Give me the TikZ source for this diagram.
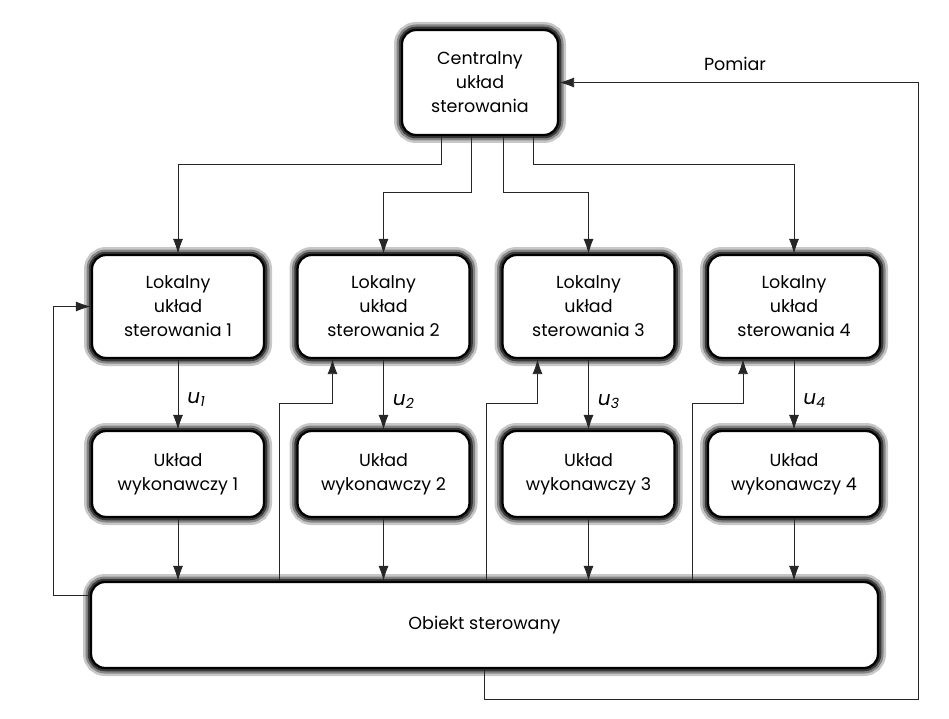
\documentclass[tikz,border=0pt]{standalone}
\usepackage{fontspec}
\setmainfont{Poppins}
\usetikzlibrary{arrows.meta,calc}
\begin{document}
\begin{tikzpicture}[x=1pt,y=-1pt,
  blk/.style={draw=black, line width=2.3pt, rounded corners=14pt, fill=white,
    align=center, inner sep=0pt, font=\fontsize{17.5}{24}\selectfont,
    preaction={draw=black!22, line width=16pt},
    preaction={draw=black!48, line width=11pt},
    preaction={draw=black!78, line width=6.5pt}},
  loc/.style={blk, minimum width=172pt, minimum height=103pt},
  act/.style={blk, minimum width=172pt, minimum height=86pt},
  arr/.style={draw=black!85, line width=0.9pt, -{Latex[length=15pt,width=10pt]}},
  lab/.style={font=\fontsize{20}{20}\selectfont\itshape, inner sep=0pt}
]
\useasboundingbox (0,0) rectangle (949,719);

\node[blk, minimum width=156pt, minimum height=105pt] (c) at (480,82.5)
  {Centralny\\układ\\sterowania};

\node[loc] (l1) at (178,306.5) {Lokalny\\układ\\sterowania 1};
\node[loc] (l2) at (383.5,306.5) {Lokalny\\układ\\sterowania 2};
\node[loc] (l3) at (588.5,306.5) {Lokalny\\układ\\sterowania 3};
\node[loc] (l4) at (794,306.5) {Lokalny\\układ\\sterowania 4};

\node[act] (a1) at (178,474) {Układ\\wykonawczy 1};
\node[act] (a2) at (383.5,474) {Układ\\wykonawczy 2};
\node[act] (a3) at (588.5,474) {Układ\\wykonawczy 3};
\node[act] (a4) at (794,474) {Układ\\wykonawczy 4};

\node[blk, minimum width=787pt, minimum height=86pt] (o) at (484.5,625)
  {Obiekt sterowany};

% central -> local
\draw[arr] ([xshift=-39pt]c.south) -- ++(0,28) -| (l1.north);
\draw[arr] ([xshift=-9pt]c.south) -- ++(0,56) -| (l2.north);
\draw[arr] ([xshift=23pt]c.south) -- ++(0,56) -| (l3.north);
\draw[arr] ([xshift=53pt]c.south) -- ++(0,28) -| (l4.north);

% local -> actuator
\draw[arr] (l1.south) -- node[lab, right, xshift=9pt, yshift=-5pt] {u\textsubscript{1}} (a1.north);
\draw[arr] (l2.south) -- node[lab, right, xshift=9pt, yshift=-7pt] {u\textsubscript{2}} (a2.north);
\draw[arr] (l3.south) -- node[lab, right, xshift=9pt, yshift=-7pt] {u\textsubscript{3}} (a3.north);
\draw[arr] (l4.south) -- node[lab, right, xshift=9pt, yshift=-6pt] {u\textsubscript{4}} (a4.north);

% actuator -> object
\draw[arr] (a1.south) -- (a1.south |- o.north);
\draw[arr] (a2.south) -- (a2.south |- o.north);
\draw[arr] (a3.south) -- (a3.south |- o.north);
\draw[arr] (a4.south) -- (a4.south |- o.north);

% object -> local feedbacks
\coordinate (f2) at (279,403);
\coordinate (f3) at (486,403);
\coordinate (f4) at (692,403);
\draw[arr] (o.north -| f2) -- (f2) -| ([xshift=-51pt]l2.south);
\draw[arr] (o.north -| f3) -- (f3) -| ([xshift=-51pt]l3.south);
\draw[arr] (o.north -| f4) -- (f4) -| ([xshift=-51pt]l4.south);

\coordinate (fl) at (53,595);
\draw[arr] (o.west |- fl) -- (fl) |- (l1.west);

% measurement
\coordinate (pr) at (918,699);
\draw[arr] (o.south) |- (pr) |- (c.east);
\node[font=\fontsize{17.5}{20}\selectfont] (pm) at (735,64) {Pomiar};
\end{tikzpicture}
\end{document}
